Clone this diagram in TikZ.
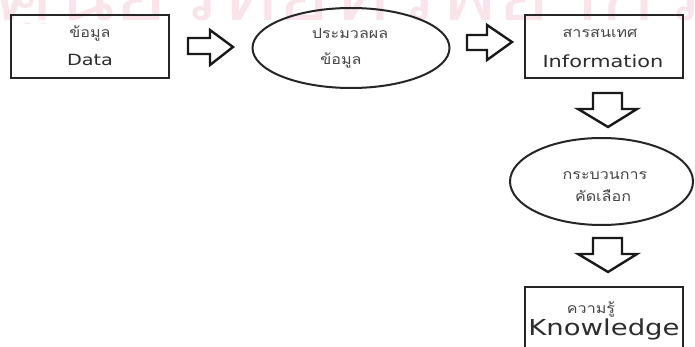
\documentclass[tikz,border=0pt]{standalone}
\usepackage{graphicx}
\usepackage{fontspec}
\setmainfont{DejaVu Sans}
\newfontfamily\thaifont[Script=Thai]{Loma}
\usetikzlibrary{shapes.geometric}

\definecolor{wmark}{RGB}{248,228,233}
\definecolor{thaigray}{RGB}{70,70,70}
\definecolor{engray}{RGB}{45,45,45}

\newcommand{\wide}[1]{\scalebox{1.25}[1]{#1}}
\newcommand{\thwide}[1]{\scalebox{1.15}[1]{#1}}

\tikzset{
  box/.style={draw=black!85, line width=2.2pt, minimum width=158pt, minimum height=63pt, inner sep=0pt},
  oval/.style={ellipse, draw=black!85, line width=2pt, inner sep=0pt},
  thlabel/.style={text=thaigray, inner sep=0pt, font=\thaifont\fontsize{14}{15}\selectfont},
  enlabel/.style={text=engray, inner sep=0pt},
  blockarrow/.style={draw=black!90, line width=2.4pt, fill=white, line join=miter}
}

\begin{document}
\begin{tikzpicture}[x=1pt,y=-1pt]
\useasboundingbox (0,0) rectangle (695,347);
\clip (0,0) rectangle (695,347);
\fill[white] (0,0) rectangle (695,347);

% faint watermark: only the lower edge of its letters shows at the top
\begin{scope}
  \clip (0,0) rectangle (695,24);
  \node[anchor=base west, inner sep=0pt, text=wmark,
        font=\thaifont\fontsize{72}{72}\selectfont] (wm) at (-4,21) {\wide{ศูนย์วิทยทรัพยากร}};
\end{scope}

% boxes and ovals
\node[box] (data) at (90,46.5) {};
\node[thlabel] (dataTh) at (90,33) {\thwide{ข้อมูล}};
\node[enlabel, font=\fontsize{15.4}{16}\selectfont] (dataEn) at (90,60) {\wide{Data}};

\node[oval, minimum width=197pt, minimum height=80pt] (proc) at (351,48) {};
\node[thlabel] (procTh1) at (350,33) {\thwide{ประมวลผล}};
\node[thlabel] (procTh2) at (341,60) {\thwide{ข้อมูล}};

\node[box] (info) at (604,46.5) {};
\node[thlabel] (infoTh) at (600,33) {\thwide{สารสนเทศ}};
\node[enlabel, font=\fontsize{16.7}{18}\selectfont] (infoEn) at (603,61) {\wide{Information}};

\node[oval, minimum width=183pt, minimum height=87pt] (select) at (601.5,181.5) {};
\node[thlabel] (selTh1) at (605,176) {\thwide{กระบวนการ}};
\node[thlabel] (selTh2) at (603,196) {\thwide{คัดเลือก}};

\node[box, minimum height=76pt] (know) at (604,325) {};
\node[thlabel] (knowTh) at (591,309) {\thwide{ความรู้}};
\node[enlabel, font=\fontsize{22}{23}\selectfont] (knowEn) at (604,329) {\wide{Knowledge}};

% hollow block arrows between the stages
\draw[blockarrow] (188,38) -- (210,38) -- (210,30) -- (233,47) -- (210,65) -- (210,54) -- (188,54) -- cycle;
\draw[blockarrow] (467,35) -- (487,35) -- (487,25) -- (512,42) -- (487,60) -- (487,50) -- (467,50) -- cycle;
\draw[blockarrow] (593,93) -- (622,93) -- (622,109) -- (637,109) -- (608,127) -- (578,109) -- (593,109) -- cycle;
\draw[blockarrow] (593,238) -- (622,238) -- (622,254) -- (637,254) -- (608,272) -- (578,254) -- (593,254) -- cycle;
\end{tikzpicture}
\end{document}
